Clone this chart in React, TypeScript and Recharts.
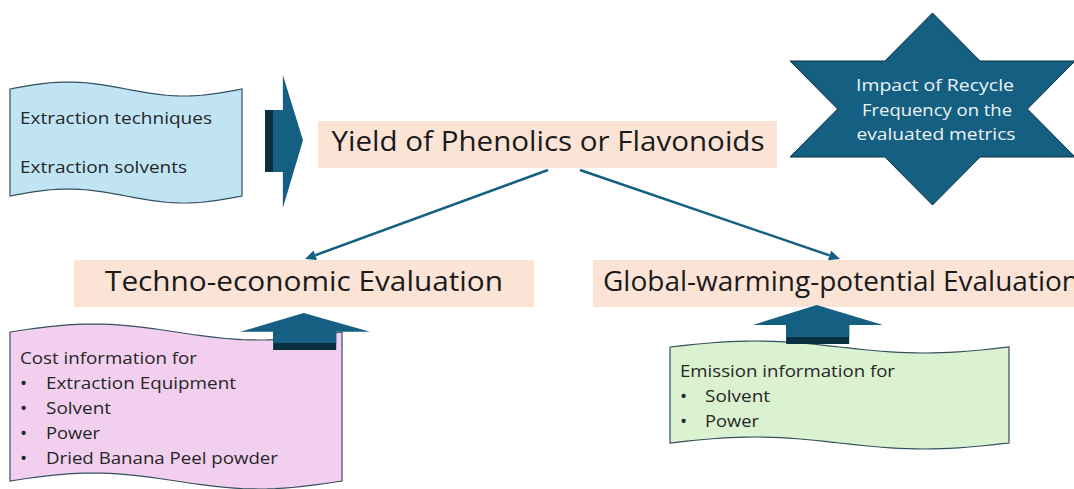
import React from 'react';
import { ScatterChart, Scatter, XAxis, YAxis, ReferenceArea, ReferenceLine } from 'recharts';

// diagram space = slide pixels (x right, y down)
const W = 1074;
const H = 489;
const FONT = '"Open Sans", "Noto Sans", sans-serif';

const waveBoxes = [
  { id: 'inputs', x1: 10, x2: 242, y1: 89, y2: 196, amp: 7 },
  { id: 'cost', x1: 10, x2: 342, y1: 332, y2: 481, amp: 8 },
  { id: 'emission', x1: 670, x2: 1009, y1: 347, y2: 443, amp: 6 },
];
const waveFill: Record<string, string> = { inputs: '#c1e4f5', cost: '#f2cfee', emission: '#daf2d0' };

const titleBoxes = [
  { id: 'yield', x1: 318, x2: 777, y1: 121, y2: 168 },
  { id: 'tea', x1: 74, x2: 534, y1: 260, y2: 307 },
  { id: 'gwp', x1: 593, x2: 1074, y1: 260, y2: 307 },
];

const links = [
  { from: { x: 548, y: 170 }, to: { x: 305, y: 259 } },
  { from: { x: 580, y: 170 }, to: { x: 840, y: 259 } },
];

const rightArrows = [{ x1: 265, x2: 303, y1: 75, y2: 208 }];
const upArrows = [
  { x1: 240, x2: 370, y1: 313, y2: 350 },
  { x1: 753, x2: 883, y1: 305, y2: 344 },
];
const stars = [{ x1: 790, x2: 1075, y1: 13, y2: 205 }];

// w = measured text width in the reference
const titles = [
  { x: 548, y: 151, text: 'Yield of Phenolics or Flavonoids', w: 433 },
  { x: 304, y: 291, text: 'Techno-economic Evaluation', w: 398 },
  { x: 841, y: 291, text: 'Global-warming-potential Evaluation', w: 476 },
];
const bodyLines = [
  { x: 20, y: 124, text: 'Extraction techniques', w: 192 },
  { x: 20, y: 173, text: 'Extraction solvents', w: 167 },
  { x: 20, y: 364, text: 'Cost information for', w: 177 },
  { x: 46, y: 389, text: 'Extraction Equipment', w: 190 },
  { x: 46, y: 414, text: 'Solvent', w: 65 },
  { x: 46, y: 439, text: 'Power', w: 54 },
  { x: 46, y: 464, text: 'Dried Banana Peel powder', w: 232 },
  { x: 680, y: 377, text: 'Emission information for', w: 215 },
  { x: 705, y: 402, text: 'Solvent', w: 65 },
  { x: 705, y: 427, text: 'Power', w: 54 },
];
const bullets = [
  { x: 20, y: 390, text: '•' },
  { x: 20, y: 415, text: '•' },
  { x: 20, y: 440, text: '•' },
  { x: 20, y: 465, text: '•' },
  { x: 680, y: 403, text: '•' },
  { x: 680, y: 428, text: '•' },
];
const starLines = [
  { x: 935, y: 91, text: 'Impact of Recycle', w: 158 },
  { x: 937, y: 116, text: 'Frequency on the', w: 150 },
  { x: 936, y: 140, text: 'evaluated metrics', w: 159 },
];

const TEAL = '#156082';
const TEAL_DARK = '#0a2f41';
const OUTLINE = '#34505f';

const wavePath = (x: number, y: number, w: number, h: number, amp: number) => {
  const n = 40;
  const top: string[] = [];
  const bot: string[] = [];
  for (let i = 0; i <= n; i++) {
    const t = i / n;
    top.push(`${x + w * t},${y - amp * Math.sin(2 * Math.PI * t)}`);
    bot.push(`${x + w * (1 - t)},${y + h - amp * Math.sin(2 * Math.PI * (1 - t))}`);
  }
  return `M${top.join(' L')} L${bot.join(' L')} Z`;
};

const WaveShape = (id: string, amp: number) => (p: any) => (
  <path d={wavePath(p.x, p.y, p.width, p.height, amp)} fill={waveFill[id]} stroke={OUTLINE} strokeWidth={1.2} />
);

const RightArrowShape = (p: any) => {
  const { x, y, width: w, height: h } = p;
  const sTop = y + h * 0.263;
  const sBot = y + h * 0.729;
  const hx = x + w * 0.47;
  return (
    <g>
      <rect x={x} y={sTop} width={hx - x + 1} height={sBot - sTop} fill={TEAL_DARK} />
      <path
        d={`M${x + 8},${sTop} L${hx},${sTop} L${hx},${y} L${x + w},${y + h * 0.49} L${hx},${y + h} L${hx},${sBot} L${x + 8},${sBot} Z`}
        fill={TEAL}
      />
    </g>
  );
};

const UpArrowShape = (p: any) => {
  const { x, y, width: w, height: h } = p;
  const hy = y + h * 0.51;
  const sl = x + w * 0.255;
  const sr = x + w * 0.74;
  return (
    <g>
      <rect x={sl} y={hy} width={sr - sl} height={y + h - hy} fill={TEAL_DARK} />
      <path
        d={`M${x},${hy} L${x + w * 0.49},${y} L${x + w},${hy} L${sr},${hy} L${sr},${y + h - 7} L${sl},${y + h - 7} L${sl},${hy} Z`}
        fill={TEAL}
      />
    </g>
  );
};

const StarShape = (p: any) => {
  const { x, y, width: w, height: h } = p;
  const pts = [
    [0.5, 0], [0.333, 0.25], [0, 0.25], [0.167, 0.5], [0, 0.75], [0.333, 0.75],
    [0.5, 1], [0.667, 0.75], [1, 0.75], [0.833, 0.5], [1, 0.25], [0.667, 0.25],
  ];
  const d = pts.map((q, i) => `${i ? 'L' : 'M'}${x + q[0] * w},${y + q[1] * h}`).join(' ') + ' Z';
  return <path d={d} fill={TEAL} stroke={TEAL_DARK} strokeWidth={1} />;
};

const LinkShape = (p: any) => {
  const { x1, y1, x2, y2 } = p;
  const a = Math.atan2(y2 - y1, x2 - x1);
  const L = 11;
  const s = 5;
  const bx = x2 - L * Math.cos(a);
  const by = y2 - L * Math.sin(a);
  const px = -Math.sin(a) * s;
  const py = Math.cos(a) * s;
  return (
    <g>
      <line x1={x1} y1={y1} x2={bx} y2={by} stroke={TEAL} strokeWidth={2.5} />
      <path d={`M${x2},${y2} L${bx + px},${by + py} L${bx - px},${by - py} Z`} fill={TEAL} />
    </g>
  );
};

const textShape = (size: number, color: string, anchor: 'start' | 'middle') => (p: any) => (
  <text
    x={p.cx}
    y={p.cy}
    fontSize={size}
    fill={color}
    textAnchor={anchor}
    fontFamily={FONT}
    textLength={p.payload.w}
    lengthAdjust={p.payload.w ? 'spacingAndGlyphs' : undefined}
  >
    {p.payload.text}
  </text>
);

export default function App() {
  return (
    <div style={{ position: 'absolute', left: 0, top: 0, width: W, height: H, background: '#fff' }}>
      <ScatterChart width={W} height={H} margin={{ top: 0, right: 0, bottom: 0, left: 0 }}>
        <XAxis type='number' dataKey='x' domain={[0, W]} hide allowDataOverflow />
        <YAxis type='number' dataKey='y' domain={[0, H]} reversed hide allowDataOverflow />
        {waveBoxes.map((b) => (
          <ReferenceArea key={b.id} x1={b.x1} x2={b.x2} y1={b.y1} y2={b.y2} ifOverflow='visible' shape={WaveShape(b.id, b.amp)} />
        ))}
        {titleBoxes.map((b) => (
          <ReferenceArea key={b.id} x1={b.x1} x2={b.x2} y1={b.y1} y2={b.y2} ifOverflow='visible' fill='#fbe3d6' fillOpacity={1} stroke='none' />
        ))}
        {links.map((l, i) => (
          <ReferenceLine key={'l' + i} segment={[l.from, l.to]} ifOverflow='visible' shape={LinkShape} />
        ))}
        {rightArrows.map((b, i) => (
          <ReferenceArea key={'r' + i} x1={b.x1} x2={b.x2} y1={b.y1} y2={b.y2} ifOverflow='visible' shape={RightArrowShape} />
        ))}
        {upArrows.map((b, i) => (
          <ReferenceArea key={'u' + i} x1={b.x1} x2={b.x2} y1={b.y1} y2={b.y2} ifOverflow='visible' shape={UpArrowShape} />
        ))}
        {stars.map((b, i) => (
          <ReferenceArea key={'s' + i} x1={b.x1} x2={b.x2} y1={b.y1} y2={b.y2} ifOverflow='visible' shape={StarShape} />
        ))}
        <Scatter data={titles} shape={textShape(27, '#1a1a1a', 'middle')} isAnimationActive={false} />
        <Scatter data={bodyLines} shape={textShape(16.5, '#262626', 'start')} isAnimationActive={false} />
        <Scatter data={bullets} shape={textShape(19, '#262626', 'start')} isAnimationActive={false} />
        <Scatter data={starLines} shape={textShape(17, '#eef3f6', 'middle')} isAnimationActive={false} />
      </ScatterChart>
    </div>
  );
}
